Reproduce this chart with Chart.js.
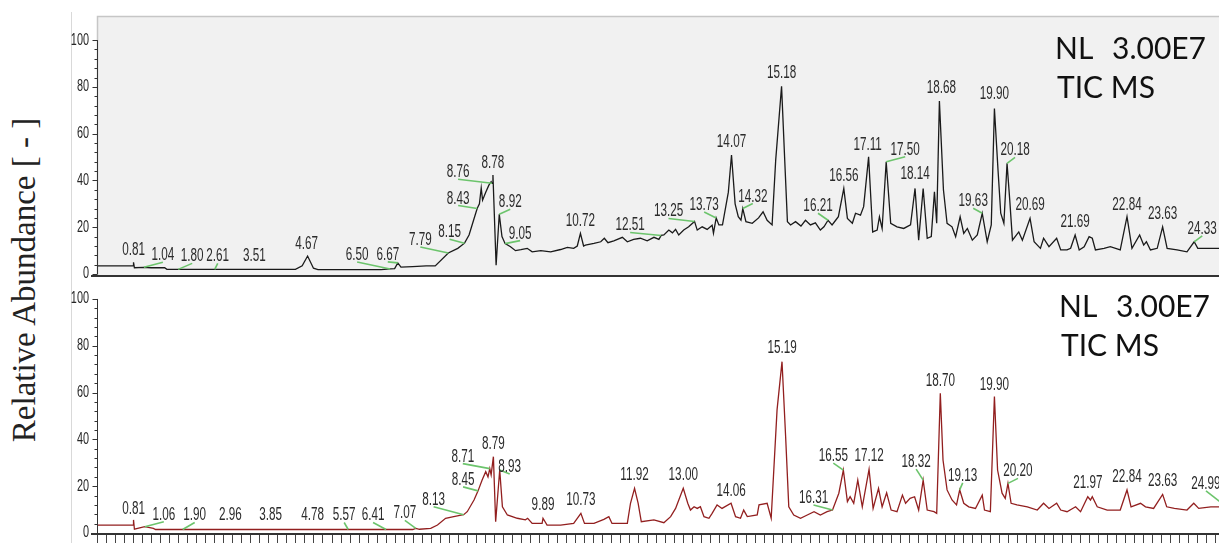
<!DOCTYPE html>
<html>
<head>
<meta charset="utf-8">
<title>TIC chromatograms</title>
<script src="https://cdn.jsdelivr.net/npm/chart.js@4/dist/chart.umd.min.js"></script>
<style>
  html, body { margin: 0; padding: 0; background: #fff; overflow: hidden; }
  #wrap { position: relative; width: 1219px; height: 543px; }
  #topChart { position: absolute; left: 0; top: 0; }
  #bottomChart { position: absolute; left: 0; top: 270px; }
  #divider { position: absolute; left: 71px; top: 12px; width: 1px; height: 531px; background: #d9d9d9; }
  #yTitle {
    position: absolute; left: 24px; top: 280px;
    transform: translate(-50%, -50%) rotate(-90deg);
    font-family: 'Liberation Serif', 'Times New Roman', serif;
    font-size: 33px; color: #222; white-space: nowrap;
  }
</style>
</head>
<body>
<div id="wrap">
  <div id="divider"></div>
  <div id="yTitle">Relative Abundance [ - ]</div>
  <canvas id="topChart" width="1219" height="280"></canvas>
  <canvas id="bottomChart" width="1219" height="273"></canvas>
</div>
<script>
// retention time (min) / relative abundance (%)
const topTrace = [
  [0,3.5],[0.80,3.5],[0.81,5.0],[0.83,2.7],[1.04,2.9],[1.20,2.7],[1.50,2.7],[1.55,2.0],[1.80,2.0],[2.61,2.0],
  [3.51,2.0],[4.40,2.0],[4.55,3.5],[4.67,7.7],[4.80,2.5],[4.90,1.9],[6.30,1.9],[6.50,2.2],[6.60,2.3],[6.67,4.8],
  [6.74,3.0],[7.00,3.2],[7.30,3.5],[7.50,3.5],[7.79,9.0],[8.00,11.0],[8.15,13.2],[8.25,16.7],[8.35,23.0],[8.43,28.0],
  [8.48,30.0],[8.52,36.8],[8.55,31.6],[8.62,35.0],[8.69,38.0],[8.74,39.5],[8.76,38.8],[8.78,42.3],[8.85,3.8],[8.92,25.6],
  [8.98,16.0],[9.05,13.0],[9.17,11.7],[9.28,10.0],[9.40,10.4],[9.54,11.0],[9.65,9.5],[9.84,10.0],[10.06,9.5],[10.28,10.5],
  [10.43,11.4],[10.57,11.0],[10.65,12.0],[10.72,17.4],[10.79,12.0],[10.83,12.4],[11.02,13.1],[11.17,13.8],[11.25,15.3],[11.33,13.4],
  [11.46,14.2],[11.65,15.7],[11.76,13.8],[11.90,14.8],[12.05,15.3],[12.20,14.2],[12.35,15.7],[12.46,14.8],[12.51,16.5],[12.57,16.7],
  [12.68,18.8],[12.76,17.6],[12.83,19.1],[12.90,16.7],[13.01,18.8],[13.12,20.2],[13.25,22.5],[13.31,18.8],[13.42,20.2],[13.53,19.1],
  [13.64,20.9],[13.67,17.5],[13.73,24.0],[13.79,21.0],[13.87,21.0],[14.00,35.0],[14.07,50.9],[14.15,30.0],[14.22,24.5],[14.28,23.0],
  [14.32,28.0],[14.39,22.4],[14.53,21.7],[14.67,24.0],[14.77,26.6],[14.86,23.0],[14.97,21.0],[15.05,48.7],[15.18,80.3],[15.25,48.7],
  [15.31,22.4],[15.38,21.0],[15.49,22.4],[15.61,20.5],[15.71,23.0],[15.82,21.0],[15.93,21.9],[16.04,18.8],[16.12,20.2],[16.21,23.0],
  [16.30,21.0],[16.38,23.0],[16.44,24.5],[16.56,36.6],[16.64,23.8],[16.75,21.7],[16.82,26.0],[16.93,25.2],[17.00,28.8],[17.11,50.1],
  [17.20,18.0],[17.30,18.8],[17.35,24.5],[17.41,19.5],[17.50,48.0],[17.60,21.7],[17.74,20.2],[17.89,19.5],[18.04,21.0],[18.14,36.6],
  [18.22,14.5],[18.32,36.6],[18.41,15.3],[18.50,16.0],[18.57,35.2],[18.62,21.7],[18.68,74.0],[18.77,35.9],[18.85,21.7],[18.96,20.2],
  [19.04,16.0],[19.14,24.5],[19.22,17.4],[19.30,19.5],[19.41,14.5],[19.52,16.7],[19.63,26.0],[19.74,13.8],[19.83,21.0],[19.90,70.8],
  [19.98,44.4],[20.04,26.0],[20.11,21.7],[20.18,47.3],[20.24,31.6],[20.30,14.5],[20.44,18.0],[20.52,14.5],[20.69,23.8],[20.78,13.8],
  [20.92,11.0],[20.99,15.3],[21.11,11.7],[21.28,15.3],[21.37,10.3],[21.51,10.3],[21.59,11.0],[21.69,16.7],[21.78,10.3],[21.89,11.7],
  [22.00,16.0],[22.07,15.3],[22.14,10.3],[22.33,11.0],[22.47,11.7],[22.69,10.3],[22.84,24.5],[22.95,11.0],[23.12,16.7],[23.21,12.4],
  [23.27,13.8],[23.36,10.3],[23.51,11.0],[23.63,20.2],[23.73,11.0],[23.95,10.3],[24.17,9.5],[24.33,13.8],[24.41,11.0],[24.63,11.0],
  [24.90,11.0]
];

const bottomTrace = [
  [0,3.4],[0.80,3.4],[0.81,5.6],[0.83,1.6],[1.06,2.7],[1.25,2.0],[1.30,1.5],[1.90,1.5],[2.96,1.5],[3.85,1.5],
  [4.78,1.5],[5.57,1.5],[6.41,1.5],[7.00,1.5],[7.07,2.0],[7.15,1.6],[7.40,2.0],[7.55,3.4],[7.73,6.3],[7.91,7.0],
  [8.10,7.7],[8.13,7.8],[8.21,9.1],[8.36,14.1],[8.45,18.0],[8.54,22.6],[8.62,26.2],[8.67,24.0],[8.71,27.5],[8.74,24.8],
  [8.79,32.6],[8.84,4.8],[8.93,26.9],[8.99,11.2],[9.10,7.7],[9.32,6.3],[9.50,5.6],[9.55,6.3],[9.65,4.1],[9.87,4.1],
  [9.89,6.3],[9.98,3.4],[10.28,3.4],[10.57,4.1],[10.73,8.4],[10.81,4.1],[11.02,4.1],[11.24,5.8],[11.35,7.0],[11.42,4.1],
  [11.76,4.1],[11.83,12.7],[11.92,19.1],[12.00,12.7],[12.07,4.8],[12.35,5.6],[12.57,4.4],[12.72,7.0],[12.83,10.5],[13.00,19.1],
  [13.10,12.7],[13.16,9.8],[13.24,11.2],[13.31,10.5],[13.38,11.2],[13.46,7.0],[13.57,6.3],[13.64,8.4],[13.75,12.0],[13.86,10.5],
  [14.06,12.7],[14.16,7.0],[14.27,6.3],[14.34,9.8],[14.42,7.0],[14.64,7.7],[14.68,12.0],[14.86,12.7],[14.95,6.3],[15.08,52.6],
  [15.19,73.2],[15.27,41.2],[15.34,11.2],[15.45,7.7],[15.60,6.3],[15.75,7.7],[15.90,9.1],[16.04,7.7],[16.19,9.1],[16.31,9.8],
  [16.45,17.0],[16.55,26.9],[16.64,13.4],[16.70,15.5],[16.78,12.7],[16.87,22.6],[16.97,11.2],[17.12,27.2],[17.21,10.5],[17.33,19.1],
  [17.41,11.2],[17.51,17.2],[17.61,9.8],[17.74,9.1],[17.86,16.2],[17.93,12.7],[18.03,14.8],[18.13,15.5],[18.22,9.8],[18.32,22.6],
  [18.41,9.8],[18.56,9.1],[18.62,8.4],[18.70,59.7],[18.76,31.2],[18.85,18.4],[18.96,14.1],[19.06,12.0],[19.13,18.4],[19.22,12.7],
  [19.33,11.2],[19.48,10.5],[19.63,16.2],[19.68,9.8],[19.81,9.1],[19.90,58.3],[19.97,26.9],[20.07,17.0],[20.14,14.8],[20.20,21.2],
  [20.27,12.7],[20.40,12.0],[20.63,11.2],[20.85,9.8],[20.99,12.7],[21.11,10.5],[21.28,12.7],[21.37,9.8],[21.51,9.1],[21.70,11.2],
  [21.81,9.1],[21.97,15.5],[22.03,14.1],[22.07,15.5],[22.18,11.2],[22.40,9.8],[22.69,9.8],[22.84,18.4],[22.93,11.2],[23.14,12.7],
  [23.25,11.2],[23.43,10.5],[23.63,16.5],[23.72,11.2],[23.89,10.5],[24.17,9.8],[24.32,12.7],[24.43,10.5],[24.70,11.2],[24.90,11.2],
  [24.99,12.0]
];

// labelled retention times
const topPeaks = [0.81, 1.04, 1.80, 2.61, 3.51, 4.67, 6.50, 6.67, 7.79, 8.15, 8.43, 8.76, 8.78, 8.92, 9.05,
  10.72, 12.51, 13.25, 13.73, 14.07, 14.32, 15.18, 16.21, 16.56, 17.11, 17.50, 18.14, 18.68, 19.63, 19.90,
  20.18, 20.69, 21.69, 22.84, 23.63, 24.33];
const bottomPeaks = [0.81, 1.06, 1.90, 2.96, 3.85, 4.78, 5.57, 6.41, 7.07, 8.13, 8.45, 8.71, 8.79, 8.93, 9.89,
  10.73, 11.92, 13.00, 14.06, 15.19, 16.31, 16.55, 17.12, 18.32, 18.70, 19.13, 19.90, 20.20, 21.97, 22.84,
  23.63, 24.99];

const yTicks = [0, 20, 40, 60, 80, 100];
const headerLines = ['NL', '3.00E7', 'TIC MS'];

// label placement: [dx, dy, leader] in px from the peak point
const topPlace = [[0,-7,0],[19,-7,1],[14,-8,1],[3,-8,1],[-1,-8,0],[-1,-7,0],[-33,-9,1],[-10,-3,1],[-28,-8,1],
  [-15,-6,1],[-19,-5,1],[-34,-6,1],[0,-7,0],[11,-7,1],[15,-5,1],[0,-7,0],[-31,-5,1],[-26,-5,1],[-12,-8,1],
  [0,-8,0],[10,-7,1],[0,-8,0],[-10,-9,1],[0,-7,0],[-1,-7,0],[19,-7,1],[0,-9,0],[2,-8,0],[-9,-7,1],[0,-9,0],
  [8,-8,1],[0,-8,0],[0,-8,0],[0,-7,0],[0,-8,0],[8,-8,1]];
const bottomPlace = [[0,-6,0],[19,-7,1],[12,-9,1],[0,-9,0],[0,-9,0],[0,-9,0],[-4,-9,1],[-13,-9,1],[-11,-10,1],
  [-30,-10,1],[-15,-6,1],[-27,-7,1],[0,-8,0],[10,2,1],[0,-8,0],[0,-8,0],[0,-8,0],[0,-8,0],[0,-7,0],[0,-9,0],
  [-19,-7,1],[-10,-9,1],[0,-8,0],[-7,-13,1],[0,-7,0],[3,-9,1],[0,-7,0],[10,-7,1],[0,-9,0],[0,-8,0],[0,-8,0],
  [-18,-16,1]];

const X_MAX = 24.88;

function valueAt(trace, t) {
  for (let i = 0; i < trace.length - 1; i++) {
    const [t0, v0] = trace[i], [t1, v1] = trace[i + 1];
    if (t >= t0 && t <= t1) return v0 + (v1 - v0) * (t - t0) / (t1 - t0);
  }
  return trace[trace.length - 1][1];
}

function squeezedText(ctx, text, x, y, sx, align) {
  ctx.save();
  ctx.translate(x, y);
  ctx.scale(sx, 1);
  ctx.textAlign = align;
  ctx.fillText(text, 0, 0);
  ctx.restore();
}

const chromPlugin = {
  id: 'chrom',
  beforeDraw(chart, args, o) {
    const { ctx, chartArea: a } = chart;
    if (!o.panelFill) return;
    ctx.save();
    ctx.fillStyle = o.panelFill;
    ctx.fillRect(a.left, a.top, a.right - a.left, a.bottom - a.top);
    ctx.strokeStyle = '#c6c6c6';
    ctx.lineWidth = 1.5;
    ctx.beginPath();
    ctx.moveTo(a.left + 0.5, a.bottom);
    ctx.lineTo(a.left + 0.5, a.top + 0.5);
    ctx.lineTo(a.right, a.top + 0.5);
    ctx.stroke();
    ctx.restore();
  },
  afterDatasetsDraw(chart, args, o) {
    const { ctx, chartArea: a } = chart;
    const xs = chart.scales.x, ys = chart.scales.y;
    ctx.save();

    // y axis with minor ticks every 4 %
    const x0 = a.left + 0.5;
    ctx.strokeStyle = '#333';
    ctx.lineWidth = 1;
    ctx.beginPath();
    ctx.moveTo(x0, ys.getPixelForValue(100));
    ctx.lineTo(x0, ys.getPixelForValue(0));
    for (let v = 0; v <= 100; v += 4) {
      const y = Math.round(ys.getPixelForValue(v)) + 0.5;
      const len = v % 20 === 0 ? 5 : 3;
      ctx.moveTo(x0 - len, y);
      ctx.lineTo(x0, y);
    }
    ctx.stroke();
    ctx.fillStyle = '#262626';
    ctx.font = '16px "Liberation Sans", Arial, sans-serif';
    ctx.textBaseline = 'middle';
    yTicks.forEach(v => squeezedText(ctx, String(v), a.left - 8, ys.getPixelForValue(v), 0.68, 'right'));

    // time axis
    ctx.fillStyle = '#333';
    ctx.fillRect(a.left - 6, a.bottom, a.right - a.left + 6, 2);
    if (o.timeTicks) {
      ctx.strokeStyle = '#444';
      ctx.lineWidth = 1;
      ctx.beginPath();
      for (let i = 0; i * 0.2 <= X_MAX; i++) {
        const x = Math.round(xs.getPixelForValue(i * 0.2)) + 0.5;
        ctx.moveTo(x, a.bottom + 2);
        ctx.lineTo(x, a.bottom + 11);
      }
      ctx.stroke();
    }

    // peak labels with leader lines
    const trace = o.trace;
    ctx.font = '18px "Liberation Sans", Arial, sans-serif';
    ctx.textBaseline = 'alphabetic';
    o.peaks.forEach((t, i) => {
      const [dx, dy, lead] = o.place[i];
      const px = xs.getPixelForValue(t);
      const py = ys.getPixelForValue(valueAt(trace, t));
      const cx = px + dx, by = py + dy;
      if (lead) {
        ctx.strokeStyle = '#6cc46c';
        ctx.lineWidth = 1.6;
        ctx.beginPath();
        ctx.moveTo(px, py);
        ctx.lineTo(cx, by + 2);
        ctx.stroke();
      }
      ctx.fillStyle = '#2b2b2b';
      squeezedText(ctx, t.toFixed(2), cx, by, 0.65, 'center');
    });

    // normalisation level / trace type
    const h = o.header;
    ctx.fillStyle = '#111';
    ctx.font = '30px Lato, "Open Sans", sans-serif';
    ctx.textAlign = 'left';
    ctx.fillText(headerLines[0], h.x, h.y);
    ctx.fillText(headerLines[1], h.x + h.gap, h.y);
    ctx.fillText(headerLines[2], h.x + 2, h.y + 39);
    ctx.restore();
  }
};

function makeChart(id, trace, color, yMin, yMax, pad, opts) {
  return new Chart(document.getElementById(id), {
    type: 'line',
    data: {
      datasets: [{
        data: trace.map(([t, v]) => ({ x: t, y: v })),
        borderColor: color,
        borderWidth: 1.3,
        pointRadius: 0,
        tension: 0,
        fill: false
      }]
    },
    options: {
      responsive: false,
      animation: false,
      layout: { padding: pad },
      scales: {
        x: { type: 'linear', min: 0, max: X_MAX, display: false },
        y: { min: yMin, max: yMax, display: false }
      },
      plugins: {
        legend: { display: false },
        tooltip: { enabled: false },
        chrom: opts
      }
    },
    plugins: [chromPlugin]
  });
}

makeChart('topChart', topTrace, '#1a1a1a', -0.4, 110.3,
  { left: 97, top: 16, right: 0, bottom: 5 },
  { panelFill: '#f1f1f1', timeTicks: false, trace: topTrace, peaks: topPeaks, place: topPlace,
    header: { x: 1055, y: 59, gap: 57 } });

makeChart('bottomChart', bottomTrace, '#921f1f', 0, 109.8,
  { left: 97, top: 6, right: 0, bottom: 10 },
  { panelFill: null, timeTicks: true, trace: bottomTrace, peaks: bottomPeaks, place: bottomPlace,
    header: { x: 1059, y: 47, gap: 57 } });
</script>
</body>
</html>
